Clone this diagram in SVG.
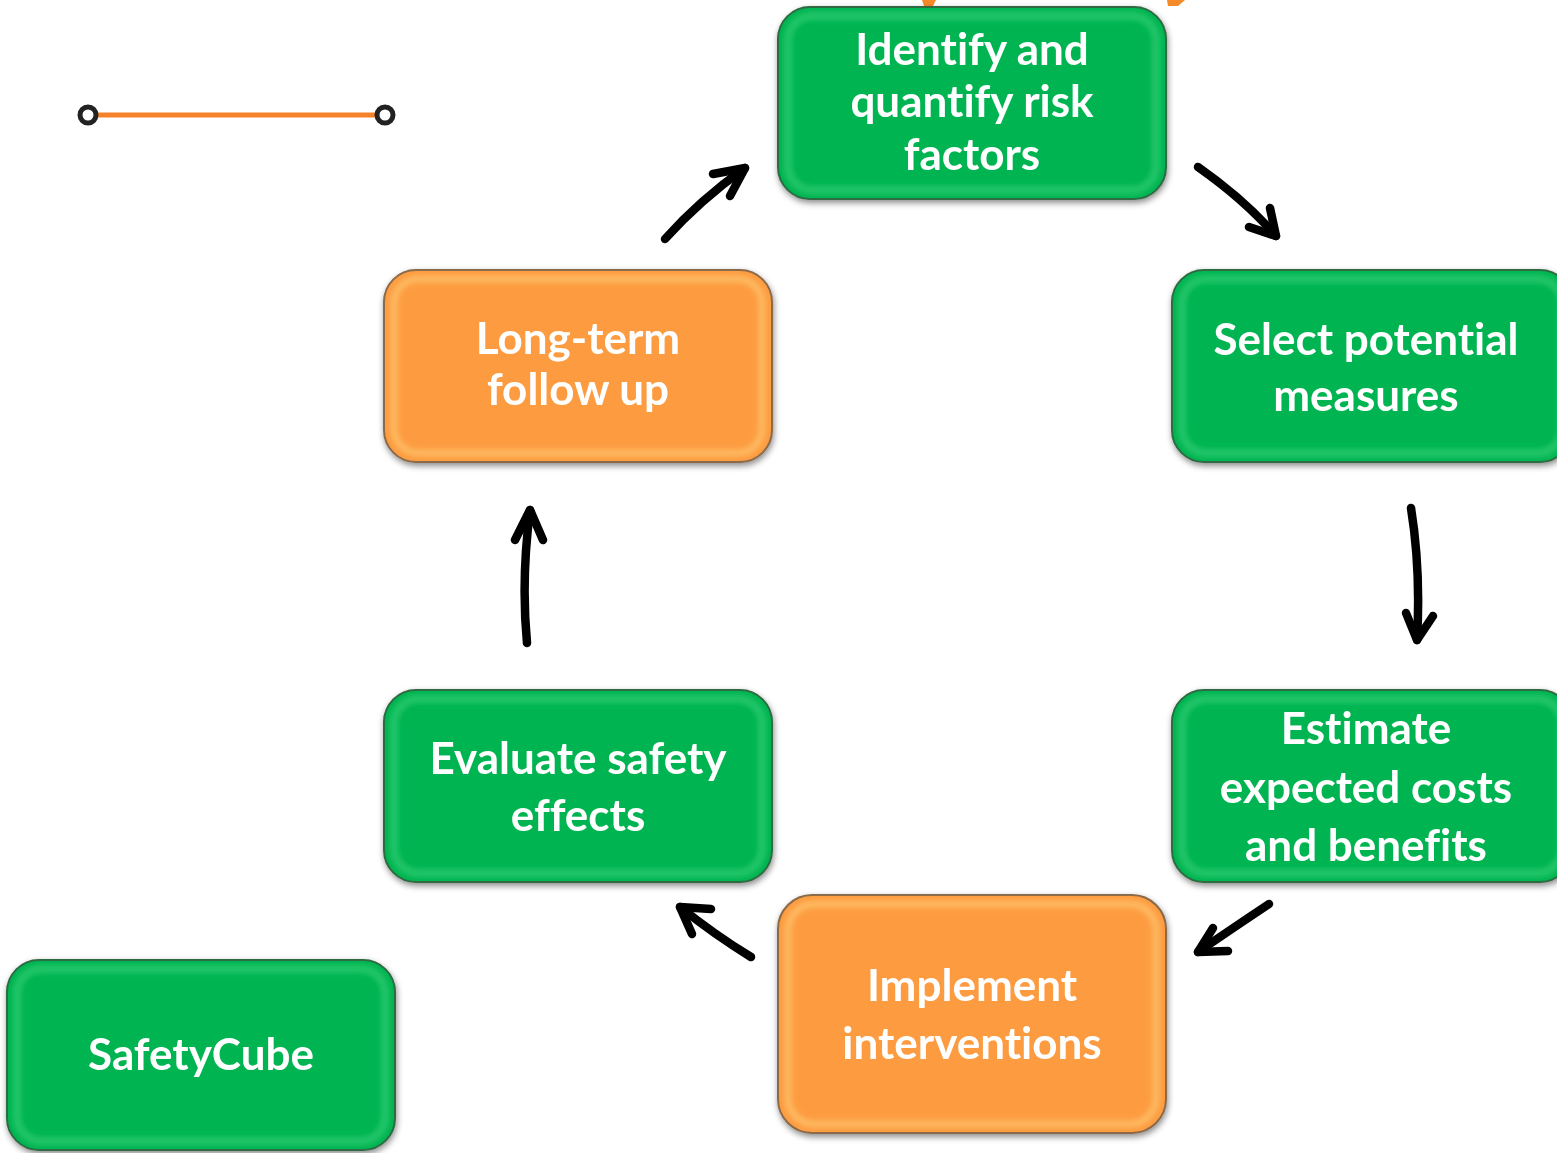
<svg xmlns="http://www.w3.org/2000/svg" width="1557" height="1153" viewBox="0 0 1557 1153">
<defs>
<filter id="sh" x="-10%" y="-10%" width="120%" height="130%">
<feGaussianBlur in="SourceAlpha" stdDeviation="3"/>
<feOffset dx="1" dy="3" result="b"/>
<feFlood flood-color="#000" flood-opacity="0.45"/>
<feComposite in2="b" operator="in"/>
<feMerge><feMergeNode/><feMergeNode in="SourceGraphic"/></feMerge>
</filter>
<filter id="bl" x="-5%" y="-5%" width="110%" height="110%"><feGaussianBlur stdDeviation="3"/></filter>
</defs>
<style>
.g{fill:#00B551;stroke:#2f6a42;stroke-width:2}
.o{fill:#FD9B40;stroke:#8a6a4a;stroke-width:2}
.gh{fill:none;stroke:#5fe090;stroke-width:5;opacity:0.6}
.oh{fill:none;stroke:#ffe08a;stroke-width:5;opacity:0.65}
.t{font-family:Lato,"Liberation Sans",sans-serif;font-weight:bold;font-size:44px;fill:#fff;text-anchor:middle;font-variant-ligatures:none;font-feature-settings:"liga" 0,"clig" 0}
.a{fill:none;stroke:#000;stroke-width:8.5;stroke-linecap:round;stroke-linejoin:round}
</style>
<rect width="1557" height="1153" fill="#fff"/>
<g id="title-fragments" fill="#F58A2A">
<path d="M922 0 L936 0 L933 6 L924 6 Z"/>
<path d="M1167 0 L1185 0 L1178 6 L1168 6 Z"/>
</g>
<g id="legend">
<line x1="88" y1="115" x2="385" y2="115" stroke="#F5822A" stroke-width="5"/>
<circle cx="88" cy="115" r="8" fill="#fff" stroke="#222" stroke-width="5"/>
<circle cx="385" cy="115" r="8" fill="#fff" stroke="#222" stroke-width="5"/>
</g>
<g id="n-identify" filter="url(#sh)">
<rect class="g" x="778" y="7" width="388" height="192" rx="32"/>
<rect class="gh" x="788" y="16" width="368" height="174" rx="24" filter="url(#bl)"/>
<text class="t" x="972" y="65">Identify and</text>
<text class="t" x="972" y="117">quantify risk</text>
<text class="t" x="972" y="170">factors</text>
</g>
<g id="n-select" filter="url(#sh)">
<rect class="g" x="1172" y="270" width="400" height="192" rx="32"/>
<rect class="gh" x="1182" y="279" width="380" height="174" rx="24" filter="url(#bl)"/>
<text class="t" x="1366" y="355">Select potential</text>
<text class="t" x="1366" y="411">measures</text>
</g>
<g id="n-longterm" filter="url(#sh)">
<rect class="o" x="384" y="270" width="388" height="192" rx="32"/>
<rect class="oh" x="394" y="279" width="368" height="174" rx="24" filter="url(#bl)"/>
<text class="t" x="578" y="354">Long-term</text>
<text class="t" x="578" y="405">follow up</text>
</g>
<g id="n-evaluate" filter="url(#sh)">
<rect class="g" x="384" y="690" width="388" height="192" rx="32"/>
<rect class="gh" x="394" y="699" width="368" height="174" rx="24" filter="url(#bl)"/>
<text class="t" x="578" y="774">Evaluate safety</text>
<text class="t" x="578" y="831">effects</text>
</g>
<g id="n-estimate" filter="url(#sh)">
<rect class="g" x="1172" y="690" width="400" height="192" rx="32"/>
<rect class="gh" x="1182" y="699" width="380" height="174" rx="24" filter="url(#bl)"/>
<text class="t" x="1366" y="744">Estimate</text>
<text class="t" x="1366" y="803">expected costs</text>
<text class="t" x="1366" y="861">and benefits</text>
</g>
<g id="n-implement" filter="url(#sh)">
<rect class="o" x="778" y="895" width="388" height="238" rx="34"/>
<rect class="oh" x="788" y="904" width="368" height="220" rx="26" filter="url(#bl)"/>
<text class="t" x="972" y="1001">Implement</text>
<text class="t" x="972" y="1059">interventions</text>
</g>
<g id="n-safetycube" filter="url(#sh)">
<rect class="g" x="7" y="960" width="388" height="190" rx="32"/>
<rect class="gh" x="17" y="969" width="368" height="172" rx="24" filter="url(#bl)"/>
<text class="t" x="201" y="1070">SafetyCube</text>
</g>
<g id="connectors">
<path class="a" d="M665 239 Q700 200 745 168"/>
<path class="a" d="M713 174 L745 168 L730 196"/>
<path class="a" d="M1198 167 Q1245 200 1276 236"/>
<path class="a" d="M1249 227 L1276 236 L1270 208"/>
<path class="a" d="M1411 508 Q1421 570 1417 640"/>
<path class="a" d="M1406 613 L1417 640 L1433 616"/>
<path class="a" d="M1269 904 Q1230 930 1198 952"/>
<path class="a" d="M1213 928 L1198 952 L1228 951"/>
<path class="a" d="M751 957 Q715 935 680 907"/>
<path class="a" d="M711 909 L680 907 L692 934"/>
<path class="a" d="M527 643 Q521 580 530 510"/>
<path class="a" d="M515 540 L530 510 L543 540"/>
</g>
</svg>
